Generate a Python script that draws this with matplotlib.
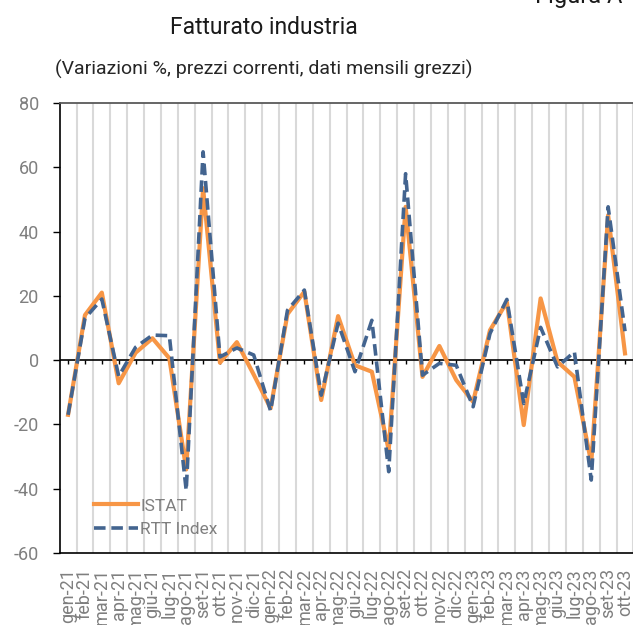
import numpy as np
import matplotlib
matplotlib.use("Agg")
import matplotlib.pyplot as plt

plt.rcParams['font.family'] = ['Roboto', 'DejaVu Sans']

# ----- Data -----
months = ['gen-21', 'feb-21', 'mar-21', 'apr-21', 'mag-21', 'giu-21', 'lug-21', 'ago-21',
          'set-21', 'ott-21', 'nov-21', 'dic-21', 'gen-22', 'feb-22', 'mar-22', 'apr-22',
          'mag-22', 'giu-22', 'lug-22', 'ago-22', 'set-22', 'ott-22', 'nov-22', 'dic-22',
          'gen-23', 'feb-23', 'mar-23', 'apr-23', 'mag-23', 'giu-23', 'lug-23', 'ago-23',
          'set-23', 'ott-23']
istat = [-17, 14, 21, -7.2, 2.3, 6.8, 0.6, -34, 53.5, -0.8, 5.6, -4.5, -15, 14.3, 21.3, -12.4,
         13.7, -1.6, -3.6, -28, 47.7, -5.2, 4.4, -6.2, -13, 9.3, 18.1, -20.2, 19.2, -0.5,
         -5.2, -32, 45.1, 2.1]
rtt = [-17, 13, 19, -5, 4, 7.8, 7.6, -40.5, 64.8, 1, 3.8, 1.6, -15.8, 15.5, 21.8, -10.9,
       11.5, -3.6, 12.4, -34.7, 58, -4.7, -1, -1.6, -14.5, 8.3, 18.9, -13.5, 10.2, -2.1,
       2.6, -37.3, 47.7, 9]
yticks = [80, 60, 40, 20, 0, -20, -40, -60]

# ----- Figure -----
fig = plt.figure(figsize=(6.33, 6.25), dpi=100)
ax = fig.add_axes([0.0942, 0.1152, 0.9065, 0.72])
x = np.arange(len(months))

ax.plot(x, istat, color='#F79646', lw=3, label='ISTAT', zorder=3)
ax.plot(x, rtt, color='#43648F', lw=2.6, ls=(0, (3.2, 1.6)), label='RTT Index', zorder=4)

ax.set_xlim(-0.5, len(months) - 0.5)
ax.set_ylim(-60, 80)

# vertical gridlines between categories
ax.set_xticks(x + 0.5, minor=True)
ax.grid(which='minor', axis='x', color='#d9d9d9', lw=1.5)
ax.set_axisbelow(True)

ax.set_xticks(x)
ax.set_xticklabels(months, rotation=90, color='#7f7f7f', fontsize=13)
ax.tick_params(axis='x', which='both', length=0, pad=11)

ax.set_yticks(yticks)
ax.set_yticklabels([str(v) for v in yticks], color='#7f7f7f', fontsize=13)
ax.tick_params(axis='y', direction='out', length=5, width=1, color='black', pad=10)

# zero line with small ticks
ax.axhline(0, color='black', lw=1.2, zorder=2)
ax.vlines(x, -1.3, 0, color='black', lw=1, zorder=2)

ax.spines['right'].set_visible(False)
ax.spines['top'].set_color('#595959')
ax.spines['top'].set_linewidth(1.3)
ax.spines['left'].set_color('black')
ax.spines['bottom'].set_color('black')
ax.spines['left'].set_linewidth(1.2)
ax.spines['bottom'].set_linewidth(1.2)

leg = ax.legend(loc='lower left', bbox_to_anchor=(0.033, 0.0), frameon=False, fontsize=12.5,
                handlelength=2.5, handletextpad=0.15, labelspacing=0.5, borderaxespad=0.5)
for t in leg.get_texts():
    t.set_color('#7f7f7f')

fig.text(264 / 633, 1 - 28 / 625, 'Fatturato industria', ha='center', va='center',
         fontsize=16.5, color='#1a1a1a')
fig.text(264 / 633, 1 - 69 / 625, '(Variazioni %, prezzi correnti, dati mensili grezzi)',
         ha='center', va='center', fontsize=14, color='#262626')
fig.text(535 / 633, 1 - 3 / 625, 'Figura A', ha='left', va='baseline', fontsize=17, color='#1a1a1a')

fig.savefig('out.png', dpi=100)
